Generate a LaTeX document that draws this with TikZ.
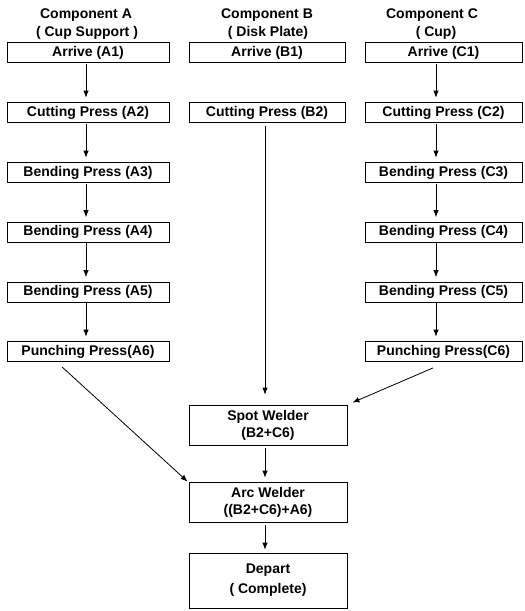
\documentclass[tikz,border=0pt]{standalone}
\usepackage{fontspec}
\setmainfont{Liberation Sans}
\usetikzlibrary{arrows.meta}
\begin{document}
\begin{tikzpicture}[x=1pt,y=-1pt,
  font=\fontsize{14}{16}\selectfont\bfseries,
  box/.style={draw, line width=0.8pt, minimum height=20pt, inner sep=0pt, anchor=center},
  boxA/.style={box, minimum width=162pt},
  boxB/.style={box, minimum width=156pt},
  boxC/.style={box, minimum width=157pt},
  bigbox/.style={box, minimum width=158pt, minimum height=40pt, align=center,
    font=\fontsize{14}{17}\selectfont\bfseries},
  hdr/.style={inner sep=0pt},
  arr/.style={-{Latex[length=7pt,width=5.5pt]}, line width=0.8pt}]
\useasboundingbox (0,0) rectangle (525,611);
% headers
\node[hdr] (ha1) at (86,15) {Component A};
\node[hdr] (ha2) at (87,33) {( Cup Support )};
\node[hdr] (hb1) at (267,15) {Component B};
\node[hdr] (hb2) at (268,33) {( Disk Plate)};
\node[hdr] (hc1) at (432,15) {Component C};
\node[hdr] (hc2) at (436,33) {( Cup)};
% column A
\node[boxA] (a1) at (88,52.5) {Arrive (A1)};
\node[boxA] (a2) at (88,112.5) {Cutting Press (A2)};
\node[boxA] (a3) at (88,172.5) {Bending Press (A3)};
\node[boxA] (a4) at (88,232) {Bending Press (A4)};
\node[boxA] (a5) at (88,292) {Bending Press (A5)};
\node[boxA] (a6) at (88,351.5) {Punching Press(A6)};
% column B
\node[boxB] (b1) at (267,52.5) {Arrive (B1)};
\node[boxB] (b2) at (267,112.5) {Cutting Press (B2)};
% column C
\node[boxC] (c1) at (443.5,52.5) {Arrive (C1)};
\node[boxC] (c2) at (443.5,112.5) {Cutting Press (C2)};
\node[boxC] (c3) at (443.5,172.5) {Bending Press (C3)};
\node[boxC] (c4) at (443.5,232) {Bending Press (C4)};
\node[boxC] (c5) at (443.5,292) {Bending Press (C5)};
\node[boxC] (c6) at (443.5,351.5) {Punching Press(C6)};
% bottom
\node[bigbox] (spot) at (268,425) {Spot Welder\\(B2+C6)};
\node[bigbox] (arc) at (268,502) {Arc Welder\\((B2+C6)+A6)};
\node[bigbox, minimum height=55pt, font=\fontsize{14}{20}\selectfont\bfseries] (dep) at (268,580.5) {Depart\\( Complete)};
% arrow columns
\coordinate (ax) at (86,0);
\coordinate (bx) at (265,0);
\coordinate (cx) at (436,0);
\foreach \u/\v in {a1/a2,a2/a3,a3/a4,a4/a5,a5/a6}
  \draw[arr, shorten <=1pt, shorten >=4.5pt] (\u.south -| ax) -- (\v.north -| ax);
\foreach \u/\v in {c1/c2,c2/c3,c3/c4,c4/c5,c5/c6}
  \draw[arr, shorten <=1pt, shorten >=4.5pt] (\u.south -| cx) -- (\v.north -| cx);
\draw[arr, shorten <=3pt, shorten >=10pt] (b2.south -| bx) -- (spot.north -| bx);
\draw[arr, shorten <=3pt, shorten >=4pt] (spot.south -| bx) -- (arc.north -| bx);
\draw[arr, shorten <=3pt, shorten >=3pt] (arc.south -| bx) -- (dep.north -| bx);
\draw[arr] ([xshift=-26pt,yshift=-5pt]a6.south) -- ([xshift=-1pt]arc.north west);
\draw[arr] ([xshift=-10.5pt,yshift=-6pt]c6.south) -- ([xshift=5pt,yshift=2pt]spot.north east);
\end{tikzpicture}
\end{document}
